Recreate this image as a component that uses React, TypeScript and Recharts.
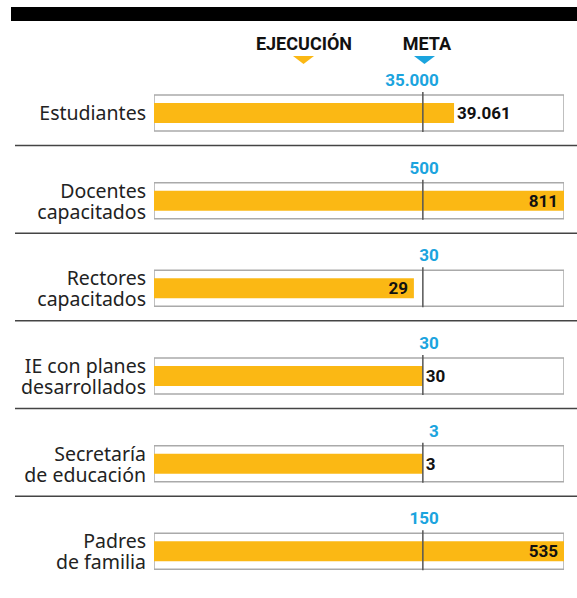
import { Bar, BarChart, LabelList, XAxis, YAxis } from 'recharts'

const categories = [
  ['Estudiantes'],
  ['Docentes', 'capacitados'],
  ['Rectores', 'capacitados'],
  ['IE con planes', 'desarrollados'],
  ['Secretaría', 'de educación'],
  ['Padres', 'de familia'],
]
const ejecucion = [39061, 811, 29, 30, 3, 535]
const meta = [35000, 500, 30, 30, 3, 150]

// box spans 0..MAX_RATIO, meta always sits at ratio 1
const MAX_RATIO = 1.525

const YELLOW = '#FBB814'
const BLUE = '#1BA4DE'
const NUM_FONT = 'Roboto, "Liberation Sans", sans-serif'
const TXT_FONT = '"Noto Sans", "Open Sans", sans-serif'

const fmt = (n: number) => String(n).replace(/\B(?=(\d{3})+(?!\d))/g, '.')

const data = categories.map((lines, i) => {
  const r = ejecucion[i] / meta[i]
  return {
    name: lines.join(' '),
    lines,
    ejecucion: ejecucion[i],
    meta: meta[i],
    ratio: Math.min(r, MAX_RATIO),
    rawRatio: r,
    clipped: r > MAX_RATIO,
    metaRatio: 1,
  }
})

function CategoryTick(props: any) {
  const { x, y, index, payload } = props
  const i = index ?? payload?.index ?? 0
  const lines = data[i].lines
  return (
    <g>
      {i > 0 && <line x1={15} x2={577} y1={y - 55} y2={y - 55} stroke="#444" strokeWidth={1.5} />}
      {lines.length === 1 ? (
        <text x={x} y={y + 7} textAnchor="end" fontFamily={TXT_FONT} fontSize={19.5} fill="#222">
          {lines[0]}
        </text>
      ) : (
        <text x={x} textAnchor="end" fontFamily={TXT_FONT} fontSize={19.5} fill="#222">
          <tspan x={x} y={y - 3}>{lines[0]}</tspan>
          <tspan x={x} y={y + 18}>{lines[1]}</tspan>
        </text>
      )}
    </g>
  )
}

function MetaShape(props: any) {
  const { x, y, width, height } = props
  const lx = x + width
  return <line x1={lx} x2={lx} y1={y - 3} y2={y + height + 1} stroke="#555" strokeWidth={1.5} />
}

function MetaLabel(props: any) {
  const { x, y, width, value } = props
  return (
    <text x={x + width + 16} y={y - 9} textAnchor="end" fontFamily={NUM_FONT} fontWeight={700} fontSize={17} fill={BLUE}>
      {fmt(value)}
    </text>
  )
}

function ExecLabel(props: any) {
  const { x, y, width, height, value, index } = props
  const d = data[index]
  const inside = d.clipped || d.rawRatio < 1
  const end = x + width
  return (
    <text
      x={inside ? end - 6 : end + 3}
      y={y + height / 2 + 6}
      textAnchor={inside ? 'end' : 'start'}
      fontFamily={NUM_FONT}
      fontWeight={700}
      fontSize={17}
      fill="#111"
    >
      {fmt(value)}
    </text>
  )
}

export default function App() {
  return (
    <div style={{ position: 'absolute', left: 0, top: 0, width: 577, height: 598, background: '#fff' }}>
      <svg width={577} height={598} style={{ position: 'absolute', left: 0, top: 0 }}>
        <rect x={11} y={7} width={566} height={14} fill="#000" />
        <text x={304} y={50} textAnchor="middle" fontFamily={NUM_FONT} fontWeight={700} fontSize={18} fill="#111">
          EJECUCIÓN
        </text>
        <polygon points="293,56 314,56 303.5,64" fill={YELLOW} />
        <text x={427} y={50} textAnchor="middle" fontFamily={NUM_FONT} fontWeight={700} fontSize={18} fill="#111">
          META
        </text>
        <polygon points="414,56 435,56 424.5,64" fill={BLUE} />
      </svg>
      <div style={{ position: 'absolute', left: 0, top: 0 }}>
        <BarChart
          width={577}
          height={598}
          data={data}
          layout="vertical"
          margin={{ top: 69, right: 13, left: 0, bottom: 3 }}
          barCategoryGap={0}
        >
          <XAxis type="number" domain={[0, MAX_RATIO]} hide allowDataOverflow />
          <YAxis
            yAxisId="box"
            type="category"
            dataKey="name"
            width={154}
            axisLine={false}
            tickLine={false}
            tickSize={0}
            tickMargin={8}
            interval={0}
            tick={<CategoryTick />}
          />
          <YAxis yAxisId="exec" type="category" dataKey="name" hide />
          <YAxis yAxisId="meta" type="category" dataKey="name" hide />
          <Bar
            yAxisId="box"
            dataKey={() => MAX_RATIO}
            barSize={36}
            fill="#fff"
            stroke="#aaa"
            strokeWidth={1.5}
            isAnimationActive={false}
          />
          <Bar yAxisId="exec" dataKey="ratio" barSize={20} fill={YELLOW} isAnimationActive={false}>
            <LabelList dataKey="ejecucion" content={ExecLabel} />
          </Bar>
          <Bar yAxisId="meta" dataKey="metaRatio" barSize={36} shape={MetaShape} isAnimationActive={false}>
            <LabelList dataKey="meta" content={MetaLabel} />
          </Bar>
        </BarChart>
      </div>
    </div>
  )
}
